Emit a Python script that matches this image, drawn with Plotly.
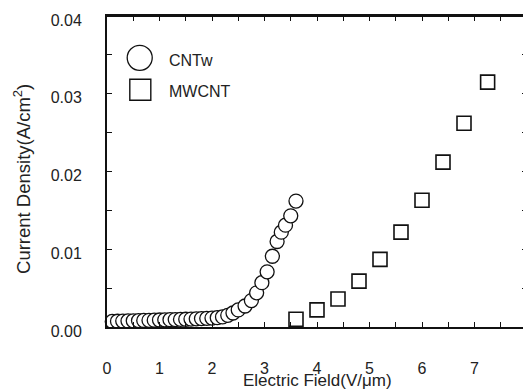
import plotly.graph_objects as go

# CNTw (circles)
cntw_x = [0.1, 0.2, 0.3, 0.4, 0.5, 0.6, 0.7, 0.8, 0.9, 1.0, 1.1, 1.2, 1.3, 1.4, 1.5,
          1.6, 1.7, 1.8, 1.9, 2.0, 2.1, 2.2, 2.3, 2.4, 2.5, 2.63, 2.75, 2.85, 2.95,
          3.05, 3.15, 3.24, 3.32, 3.4, 3.5, 3.6]
cntw_y = [0.00072, 0.00074, 0.00076, 0.00078, 0.0008, 0.00082, 0.00084, 0.00086,
          0.00088, 0.0009, 0.00092, 0.00094, 0.00096, 0.00098, 0.001, 0.00102,
          0.00105, 0.00108, 0.00111, 0.00115, 0.0012, 0.0013, 0.0015, 0.0018,
          0.0022, 0.0027, 0.0034, 0.0044, 0.0057, 0.0071, 0.0091, 0.0110,
          0.0122, 0.0131, 0.0143, 0.0162]

# MWCNT (squares)
mwcnt_x = [3.6, 4.0, 4.4, 4.8, 5.2, 5.6, 6.0, 6.4, 6.8, 7.25]
mwcnt_y = [0.0010, 0.0022, 0.0036, 0.0059, 0.0087, 0.0122, 0.0163, 0.0212, 0.0262, 0.0315]

x_ticks = [0, 1, 2, 3, 4, 5, 6, 7, 8]
y_ticks = [0.00, 0.01, 0.02, 0.03, 0.04]

FONT = "Liberation Sans, Arial, sans-serif"
TXT = "#222222"
INK = "#111111"

fig = go.Figure()
fig.add_trace(go.Scatter(
    x=cntw_x, y=cntw_y, mode="markers", name="CNTw", cliponaxis=False,
    marker=dict(symbol="circle", size=14, color="white", line=dict(color=INK, width=1.3)),
))
fig.add_trace(go.Scatter(
    x=mwcnt_x, y=mwcnt_y, mode="markers", name="MWCNT", cliponaxis=False,
    marker=dict(symbol="square", size=14, color="white", line=dict(color=INK, width=1.6)),
))

axis_common = dict(
    showgrid=False, zeroline=False, showline=True, linecolor=INK, linewidth=2,
    mirror="allticks", ticks="inside", ticklen=5, tickwidth=1.3, tickcolor=INK,
    tickfont=dict(family=FONT, size=16, color=TXT), automargin=False,
)

fig.update_xaxes(
    range=[0, 8], tickvals=x_ticks, ticktext=[str(v) for v in x_ticks],
    minor=dict(dtick=0.5, ticks="inside", ticklen=5, tickwidth=1.3, tickcolor=INK),
    ticklabelstandoff=26, **axis_common,
)
fig.update_yaxes(
    range=[0, 0.04], tickvals=y_ticks, ticktext=["%.2f" % v for v in y_ticks],
    minor=dict(dtick=0.005, ticks="inside", ticklen=5, tickwidth=1.3, tickcolor=INK),
    ticklabelstandoff=20, ticklabelshift=4, **axis_common,
)

# plot frame (top and right edges drawn explicitly as well)
fig.add_shape(type="line", xref="paper", yref="paper", x0=0, x1=1, y0=1, y1=1,
              line=dict(color=INK, width=2), layer="above")
fig.add_shape(type="line", xref="paper", yref="paper", x0=1, x1=1, y0=0, y1=1,
              line=dict(color=INK, width=2), layer="above")

# legend symbols drawn manually (larger than Plotly's legend allows), paper coordinates
fig.add_shape(type="circle", xref="paper", yref="paper",
              x0=0.0481, x1=0.1077, y0=0.8253, y1=0.9055,
              line=dict(color=INK, width=1.3), fillcolor="white")
fig.add_shape(type="rect", xref="paper", yref="paper",
              x0=0.0543, x1=0.1043, y0=0.7293, y1=0.7967,
              line=dict(color=INK, width=1.4), fillcolor="white")
fig.add_annotation(text="CNTw", xref="paper", yref="paper", x=0.142, y=0.857,
                   xanchor="left", yanchor="middle", showarrow=False,
                   font=dict(family=FONT, size=16, color=TXT))
fig.add_annotation(text="MWCNT", xref="paper", yref="paper", x=0.142, y=0.758,
                   xanchor="left", yanchor="middle", showarrow=False,
                   font=dict(family=FONT, size=16, color=TXT))

# axis titles
fig.add_annotation(text="Electric Field(V/\u03bcm)", xref="paper", yref="paper",
                   x=0.502, y=-0.171, xanchor="center", yanchor="middle", showarrow=False,
                   font=dict(family=FONT, size=17, color=TXT))
fig.add_annotation(text="Current Density(A/cm<sup>2</sup>)", xref="paper", yref="paper",
                   x=-0.2024, y=0.476, xanchor="center", yanchor="middle", showarrow=False,
                   textangle=-90, font=dict(family=FONT, size=18.5, color=TXT))

# page body has an 8px margin, so the figure is 8px smaller each way
fig.update_layout(
    width=523, height=383, showlegend=False,
    margin=dict(l=99, r=4, t=8, b=63.5, autoexpand=False),
    plot_bgcolor="white", paper_bgcolor="white",
)

fig.write_html("out.html")
